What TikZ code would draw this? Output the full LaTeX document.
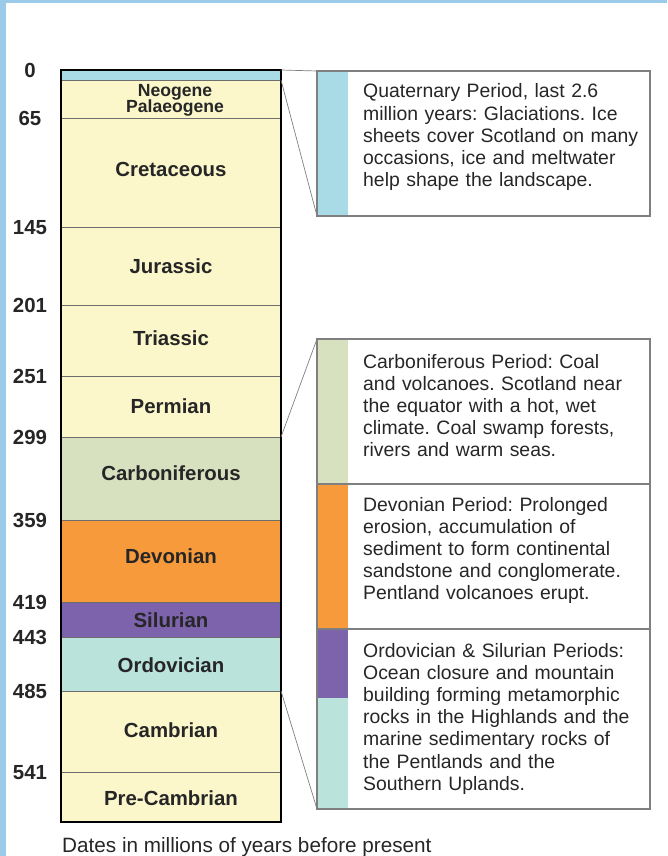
\documentclass[tikz,border=0pt]{standalone}
\usepackage{fontspec}
\setmainfont{Liberation Sans}
\usepackage{xcolor}
\usepackage{tikz}
\usetikzlibrary{positioning,calc}
\frenchspacing
\definecolor{frameblue}{HTML}{9CCBE9}
\definecolor{quaternary}{HTML}{A8DBE5}
\definecolor{sand}{HTML}{FBF7CB}
\definecolor{carbon}{HTML}{D7E0BF}
\definecolor{devon}{HTML}{F79A3B}
\definecolor{silur}{HTML}{7C63AB}
\definecolor{ordov}{HTML}{B9E3DB}
\definecolor{ink}{HTML}{262626}
\definecolor{rule}{HTML}{6E6E6E}
\definecolor{boxline}{HTML}{7F7F7F}
\tikzset{
    column/.style={rectangle, draw=black, line width=1.6pt, anchor=north west, minimum width=220pt, minimum height=752pt, inner sep=0pt, outer sep=0pt},
    divide/.style={draw=rule, line width=0.9pt},
    period/.style={anchor=base, font=\fontsize{20.4}{22}\selectfont\bfseries, text=ink, inner sep=0pt},
    date/.style={anchor=base, font=\fontsize{20.4}{22}\selectfont\bfseries, text=ink, inner sep=0pt},
    infobox/.style={rectangle, draw=boxline, line width=1.4pt, anchor=north west, minimum width=333pt, inner sep=0pt, outer sep=0pt},
    note/.style={anchor=base west, text width=290pt, align=left, inner sep=0pt, font=\fontsize{19.4}{22.2}\selectfont\frenchspacing, text=ink},
    callout/.style={draw=boxline, line width=0.7pt}
}

\begin{document}
\begin{tikzpicture}[x=1pt, y=-1pt]
\useasboundingbox (0,0) rectangle (667,856);
\fill[frameblue] (0,0) rectangle (667,3);
\fill[frameblue] (0,0) rectangle (6,856);

% the column
\fill[quaternary] (61,70) rectangle (281,80);
\fill[sand] (61,80) rectangle (281,437);
\fill[carbon] (61,437) rectangle (281,520);
\fill[devon] (61,520) rectangle (281,602);
\fill[silur] (61,602) rectangle (281,637);
\fill[ordov] (61,637) rectangle (281,691);
\fill[sand] (61,691) rectangle (281,822);
\foreach \y in {80,118,227,305,376,437,520,602,637,691,772}
    \draw[divide] (61,\y) -- (281,\y);
\node[column] (col) at (61,70) {};
\coordinate (neo) at (281,80);
\coordinate (carbtop) at (281,437);
\coordinate (cambtop) at (281,691);

\node[period, font=\fontsize{17.6}{16}\selectfont\bfseries] (neogene) at (175,97) {Neogene};
\node[period, font=\fontsize{17.6}{16}\selectfont\bfseries] (palaeogene) at (175,113) {Palaeogene};
\node[period] (cretaceous) at (171,176) {Cretaceous};
\node[period] (jurassic) at (171,273) {Jurassic};
\node[period] (triassic) at (171,345) {Triassic};
\node[period] (permian) at (171,413) {Permian};
\node[period] (carboniferous) at (171,480) {Carboniferous};
\node[period] (devonian) at (171,563) {Devonian};
\node[period] (silurian) at (171,627) {Silurian};
\node[period] (ordovician) at (171,672) {Ordovician};
\node[period] (cambrian) at (171,737) {Cambrian};
\node[period] (precambrian) at (171,805) {Pre-Cambrian};

\foreach \d/\y in {0/70,65/118,145/227,201/305,251/376,299/437,359/520,419/602,443/637,485/691,541/772}
    \node[date] (d\d) at (30,\y+7.5) {\d};

% the notes
\fill[quaternary] (317,71) rectangle (348,216);
\fill[carbon] (317,339) rectangle (348,484);
\fill[devon] (317,484) rectangle (348,629);
\fill[silur] (317,629) rectangle (348,698);
\fill[ordov] (317,698) rectangle (348,809);
\node[infobox, minimum height=145pt] (qbox) at (317,71) {};
\node[infobox, minimum height=145pt] (cbox) at (317,339) {};
\node[infobox, minimum height=145pt] (dbox) at (317,484) {};
\node[infobox, minimum height=180pt] (obox) at (317,629) {};

\node[note] (qnote) at (363,98) {Quaternary Period, last 2.6\\million years: Glaciations. Ice\\sheets cover Scotland on many\\occasions, ice and meltwater\\help shape the landscape.};
\node[note] (cnote) at (363,368) {Carboniferous Period: Coal\\and volcanoes. Scotland near\\the equator with a hot, wet\\climate. Coal swamp forests,\\rivers and warm seas.};
\node[note] (dnote) at (363,511) {Devonian Period: Prolonged\\erosion, accumulation of\\sediment to form continental\\sandstone and conglomerate.\\Pentland volcanoes erupt.};
\node[note] (onote) at (363,657) {Ordovician \& Silurian Periods:\\Ocean closure and mountain\\building forming metamorphic\\rocks in the Highlands and the\\marine sedimentary rocks of\\the Pentlands and the\\Southern Uplands.};

\draw[callout] (col.north east) -- (qbox.north west);
\draw[callout] (neo) -- (qbox.south west);
\draw[callout] (carbtop) -- (cbox.north west);
\draw[callout] (cambtop) -- (obox.south west);

\node[anchor=base west, inner sep=0pt, font=\fontsize{20.7}{24}\selectfont, text=ink] (caption) at (62,852) {Dates in millions of years before present};

\end{tikzpicture}
\end{document}
